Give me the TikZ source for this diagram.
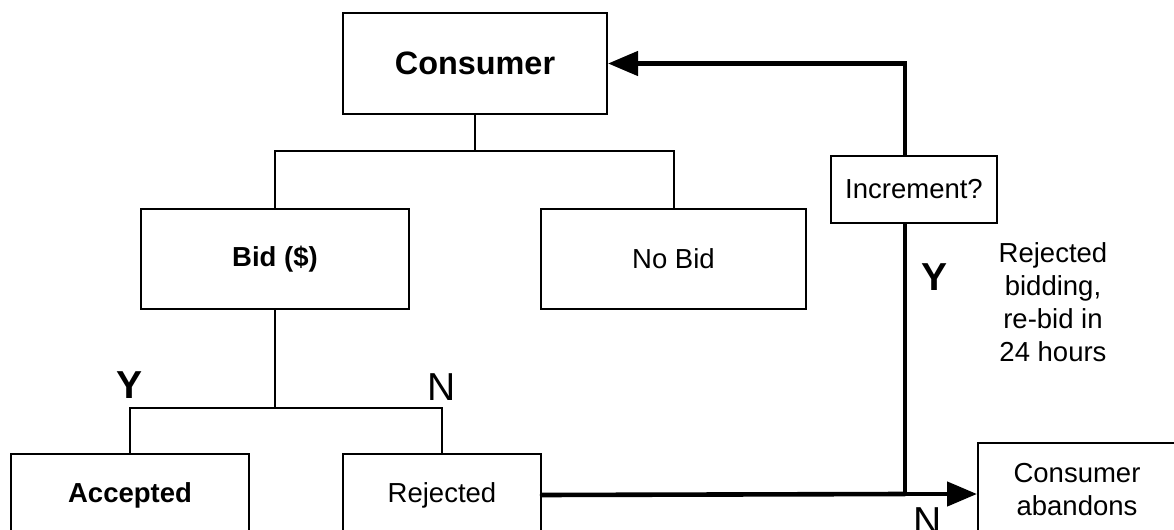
\documentclass[tikz,border=0pt]{standalone}
\usepackage{fontspec}
\setmainfont{Liberation Sans}
\usetikzlibrary{arrows.meta}
\begin{document}
\begin{tikzpicture}[x=0.5pt,y=-0.5pt,
  box/.style={draw, line width=1pt, inner sep=0pt, align=center,
    font=\fontsize{13.75}{16.5}\selectfont},
  link/.style={line width=1pt},
  flow/.style={line width=2.3pt},
  tip/.style={-{Triangle[length=15pt,width=12pt]}},
  lbl/.style={inner sep=0pt, font=\fontsize{19.5}{22}\selectfont}]
\clip (0,0) rectangle (1174,530);
\fill[white] (0,0) rectangle (1174,530);

% boxes
\node[box, minimum width=132pt, minimum height=50.5pt,
  font=\fontsize{16.2}{19}\selectfont\bfseries] (cons) at (475,63.5) {Consumer};
\node[box, minimum width=134pt, minimum height=50pt, font=\fontsize{13.75}{16.5}\selectfont\bfseries]
  (bid) at (275,259) {Bid (\$)};
\node[box, minimum width=132.5pt, minimum height=50pt] (nobid) at (673.5,259) {No Bid};
\node[box, minimum width=83pt, minimum height=33.5pt] (inc) at (914,189.5) {Increment?};
\node[box, minimum width=119pt, minimum height=41pt, font=\fontsize{13.75}{16.5}\selectfont\bfseries]
  (acc) at (130,495) {Accepted};
\node[box, minimum width=99pt, minimum height=41pt] (rej) at (442,495) {Rejected};
\node[box, minimum width=99pt, minimum height=47pt] (aband) at (1077,490) {Consumer\\abandons};

% junctions
\coordinate (j1) at (475,151);
\coordinate (j2) at (275,408);
\coordinate (j3) at (905,494);

% tree connectors
\draw[link] (cons.south) -- (j1);
\draw[link] (bid.north) |- (j1) -| (nobid.north);
\draw[link] (bid.south) -- (j2);
\draw[link] (acc.north) |- (j2) -| (rej.north);

% re-bid loop
\draw[flow, line cap=round] (rej.east) -- (j3);
\draw[flow, tip] (j3) -- (aband.west |- j3);
\draw[flow] (j3) -- (j3 |- inc.south);
\draw[flow, tip] (j3 |- inc.north) |- (cons.east);

% labels
\node[lbl, font=\fontsize{19.5}{22}\selectfont\bfseries] (ya) at (130,385) {Y};
\node[lbl] (nr) at (442,387) {N};
\node[lbl, font=\fontsize{19.5}{22}\selectfont\bfseries] (yi) at (935,277) {Y};
\node[lbl] (na) at (928,521) {N};
\node[align=center, inner sep=0pt, font=\fontsize{13.75}{16.5}\selectfont]
  (note) at (1053,302) {Rejected\\bidding,\\re-bid in\\24 hours};
\end{tikzpicture}
\end{document}
